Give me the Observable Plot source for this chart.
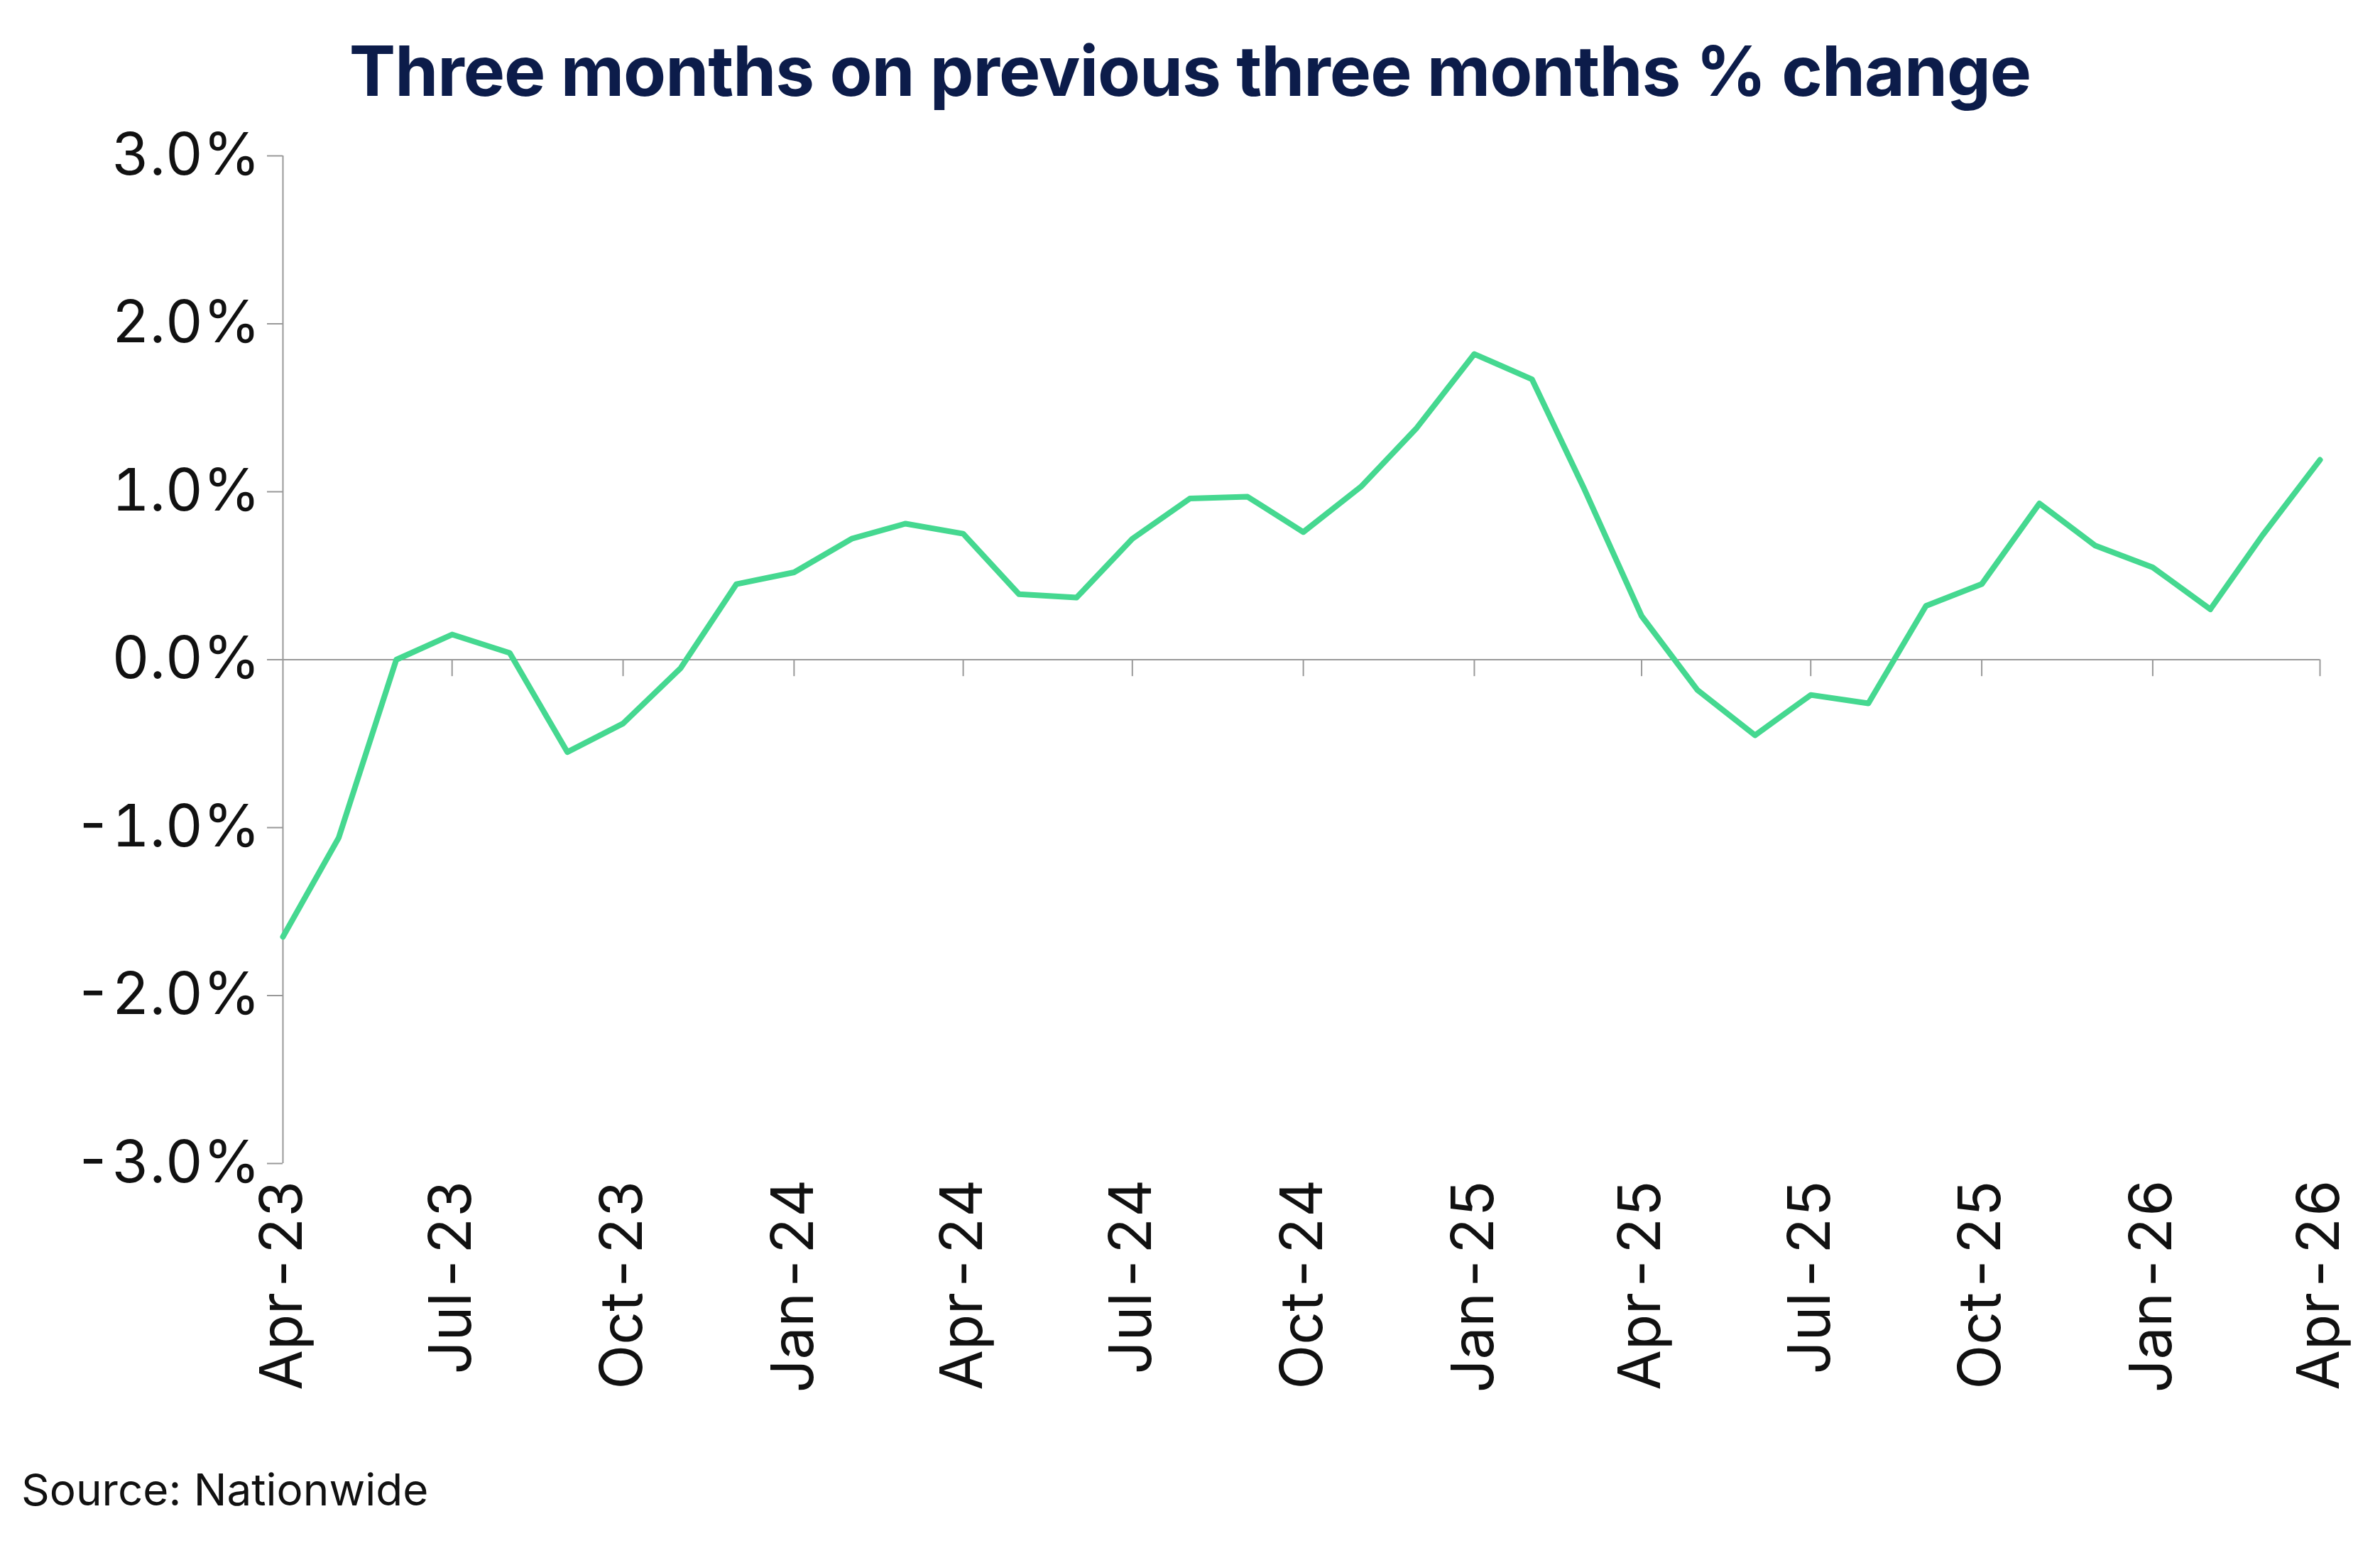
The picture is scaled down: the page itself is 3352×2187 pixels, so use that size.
<!DOCTYPE html>
<html><head><meta charset="utf-8">
<script src="https://cdn.jsdelivr.net/npm/d3@7"></script>
<script src="https://cdn.jsdelivr.net/npm/@observablehq/plot@0.6"></script>
<style>
body{margin:0;background:#fff;font-family:Inter,"Noto Sans",sans-serif;width:3352px}
#title{height:130px;line-height:200px;text-align:center;font-size:98px;font-weight:bold;color:#0c1c4a;letter-spacing:-1px}
#src{font-size:62px;color:#111;margin-left:30px;margin-top:-10px}
</style></head><body>
<div id="title">Three months on previous three months % change</div>
<div id="chart"></div>
<div id="src">Source: Nationwide</div>
<script>
const startMonth = "2023-04";
const values = [-1.65,-1.06,0.0,0.15,0.04,-0.55,-0.38,-0.05,0.45,0.52,0.72,0.81,0.75,0.39,0.37,0.72,0.96,0.97,0.76,1.03,1.38,1.82,1.67,1.02,0.26,-0.18,-0.45,-0.21,-0.26,0.32,0.45,0.93,0.68,0.55,0.30,0.74,1.19];
const yTicks = [-3,-2,-1,0,1,2,3];
const months = ["Jan","Feb","Mar","Apr","May","Jun","Jul","Aug","Sep","Oct","Nov","Dec"];
const data = values.map((v,i)=>({date:new Date(Date.UTC(2023,3+i,1)),value:v}));
const quarters = data.filter((d,i)=>i%3===0).map(d=>d.date);
const fmt = d => months[d.getUTCMonth()]+"-"+String(d.getUTCFullYear()%100).padStart(2,"0");
const chart = Plot.plot({
  width:3352, height:1940,
  marginLeft:398, marginRight:85, marginTop:89, marginBottom:432,
  style:{fontFamily:"Inter, 'Noto Sans', sans-serif", fontSize:"82px", color:"#111", background:"#fff", overflow:"visible"},
  x:{type:"utc", domain:[data[0].date,data[data.length-1].date]},
  y:{domain:[-3,3]},
  marks:[
    Plot.ruleY([0],{stroke:"#999",strokeWidth:2}),
    Plot.ruleX([data[0].date],{y1:-3,y2:3,stroke:"#999",strokeWidth:2}),
    Plot.ruleX(quarters.slice(1),{y1:0,y2:-0.1,stroke:"#999",strokeWidth:2}),
    Plot.axisY(yTicks,{tickSize:22,tickPadding:10,stroke:"#999",strokeWidth:2,tickFormat:d=>d.toFixed(1)+"%",label:null}),
    Plot.axisX(quarters,{tickSize:0,tickPadding:22,tickRotate:-90,tickFormat:fmt,label:null}),
    Plot.line(data,{x:"date",y:"value",stroke:"#45d890",strokeWidth:8})
  ]
});
document.getElementById("chart").append(chart);
</script></body></html>
